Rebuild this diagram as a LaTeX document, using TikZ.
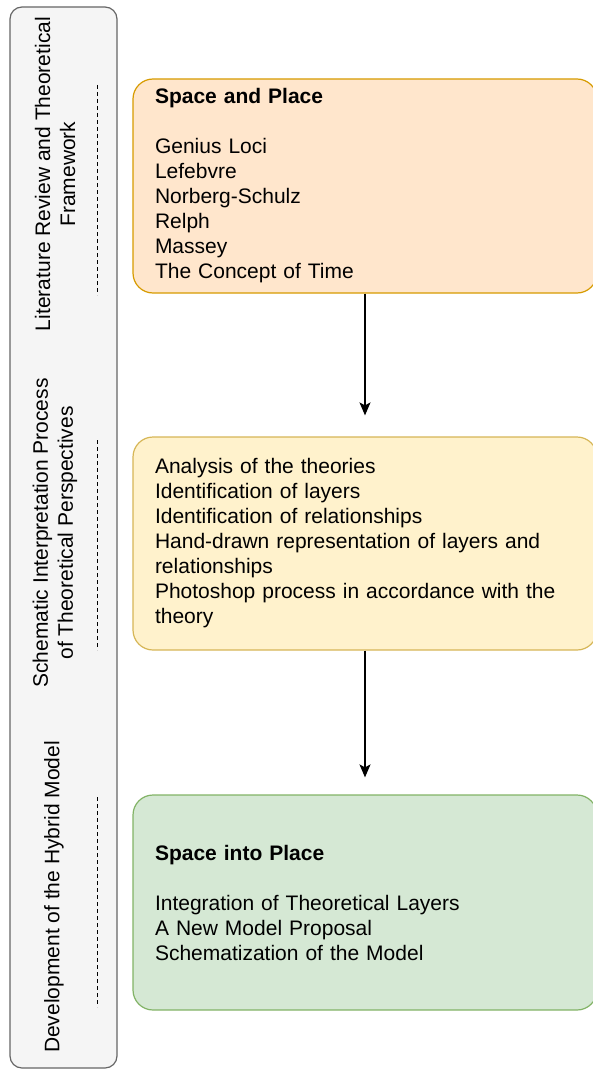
\documentclass[tikz,border=0pt]{standalone}
\usepackage{fontspec}
\setmainfont{Liberation Sans}
\usetikzlibrary{arrows.meta}
\definecolor{barfill}{HTML}{F5F5F5}
\definecolor{barline}{HTML}{666666}
\definecolor{orfill}{HTML}{FFE6CC}
\definecolor{orline}{HTML}{D79B00}
\definecolor{yefill}{HTML}{FFF2CC}
\definecolor{yeline}{HTML}{D6B656}
\definecolor{grfill}{HTML}{D5E8D4}
\definecolor{grline}{HTML}{82B366}
\begin{document}
\begin{tikzpicture}[x=1pt,y=-1pt,
  txt/.style={font=\fontsize{21}{25}\selectfont},
  stage/.style={txt,draw,line width=1.2pt,rounded corners=20pt,minimum width=464pt,
    text width=420pt,inner xsep=22pt,align=left},
  phase/.style={txt,rotate=90,align=center},
  sep/.style={dash pattern=on 4pt off 3pt,line width=0.9pt},
  flow/.style={line width=1.5pt,-{Stealth[length=13pt,width=11pt,inset=3pt]}}]
\useasboundingbox (0,0) rectangle (593,1070);
% phases on the left
\node[draw=barline,fill=barfill,line width=1.2pt,rounded corners=12pt,minimum width=107pt,minimum height=1061pt] (bar) at (63.5,537.5) {};
\node[phase] (ph1) at (55,174) {Literature Review and Theoretical\\Framework};
\node[phase] (ph2) at (55,533) {Schematic Interpretation Process\\of Theoretical Perspectives};
\node[phase] (ph3) at (54,897) {Development of the Hybrid Model};
\draw[sep] (97,85) -- (97,295);
\draw[sep] (97,440) -- (97,650);
\draw[sep] (97,797) -- (97,1007);
% stages
\node[stage,fill=orfill,draw=orline,minimum height=214pt] (place) at (365,186)
  {\textbf{Space and Place}\\[25pt]Genius Loci\\Lefebvre\\Norberg-Schulz\\Relph\\Massey\\The Concept of Time};
\node[stage,fill=yefill,draw=yeline,minimum height=213pt] (interp) at (365,543.5)
  {Analysis of the theories\\Identification of layers\\Identification of relationships\\Hand-drawn representation of layers and\\relationships\\Photoshop process in accordance with the\\theory};
\node[stage,fill=grfill,draw=grline,minimum height=215pt] (hybrid) at (365,902.5)
  {\textbf{Space into Place}\\[25pt]Integration of Theoretical Layers\\A New Model Proposal\\Schematization of the Model};
\draw[flow] (place) -- ([yshift=21pt]interp.north);
\draw[flow] (interp) -- ([yshift=17pt]hybrid.north);
\end{tikzpicture}
\end{document}
